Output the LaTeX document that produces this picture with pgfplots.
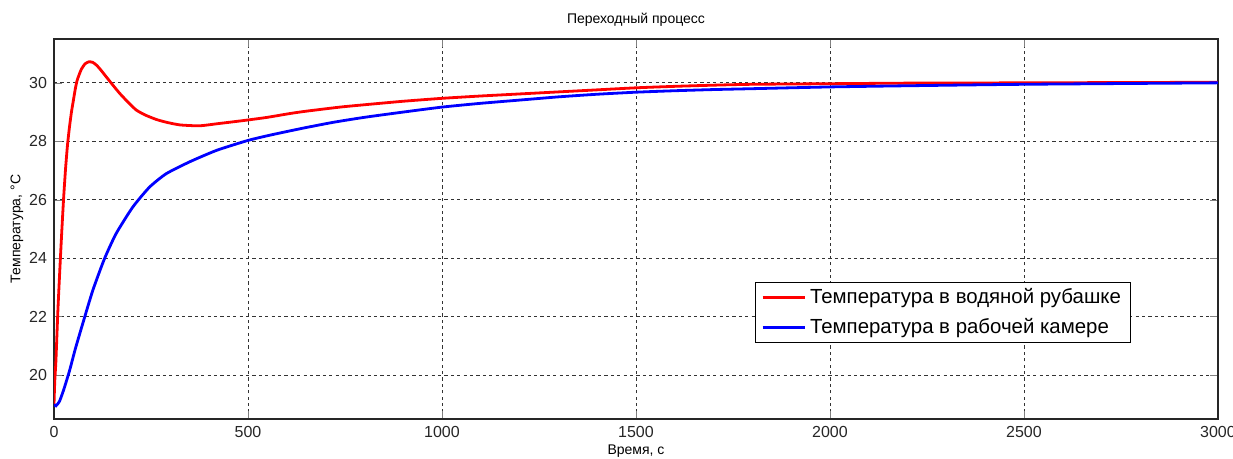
\documentclass[border=0pt]{standalone}
\usepackage{pgfplots}
\pgfplotsset{compat=1.18}
\usepackage{pgfplotstable}
\usepackage{fontspec}
\setmainfont{Liberation Sans}

\pgfplotstableread{
t v
0 19.0
2 19.8
5 20.5
10 22.2
15 23.6
20 24.9
25 26.1
30 27.1
35 27.9
40 28.5
45 29.0
50 29.4
55 29.8
60 30.1
70 30.45
80 30.65
90 30.72
100 30.7
110 30.6
120 30.45
135 30.2
150 29.95
170 29.63
190 29.35
212 29.07
235 28.9
263 28.75
290 28.65
325 28.56
375 28.53
420 28.6
470 28.68
500 28.73
550 28.82
608 28.95
650 29.03
737 29.17
800 29.25
900 29.37
1000 29.47
1100 29.55
1200 29.62
1300 29.69
1400 29.76
1500 29.83
1600 29.88
1700 29.92
1800 29.95
2000 29.97
2200 29.99
2500 30.0
3000 30.02
}\jacket

\pgfplotstableread{
t v
0 19.0
5 18.95
14 19.1
25 19.5
40 20.15
55 20.9
74 21.76
100 22.9
130 23.98
160 24.84
203 25.75
246 26.43
289 26.89
350 27.3
419 27.69
500 28.03
560 28.22
642 28.45
720 28.65
800 28.82
900 29.0
1000 29.17
1100 29.3
1200 29.41
1300 29.52
1400 29.61
1500 29.68
1600 29.73
1700 29.77
1800 29.8
2000 29.86
2200 29.9
2500 29.95
3000 30.0
}\chamber

\begin{document}
\begin{tikzpicture}
\path[use as bounding box] (-27pt,-20pt) rectangle (589.5pt,209.5pt);
\begin{axis}[
  at={(0,0)}, anchor=south west,
  scale only axis,
  width=582pt, height=190pt,
  xmin=0, xmax=3000, ymin=18.5, ymax=31.5,
  xtick={0,500,...,3000}, ytick={20,22,...,30},
  scaled x ticks=false,
  xticklabel style={/pgf/number format/1000 sep={}},
  /pgf/number format/assume math mode=true,
  tick label style={font=\fontsize{8}{9.6}\selectfont, text=black!85},
  tick align=inside, tick pos=both,
  major tick length=4pt,
  axis line style={line width=0.6pt, black!85},
  grid=major,
  major grid style={black!80, line width=0.45pt, dash pattern=on 1.6pt off 1.6pt},
  title={Переходный процесс},
  title style={font=\fontsize{7}{8}\selectfont, yshift=-3pt},
  xlabel={Время, с},
  ylabel={Температура, °C},
  label style={font=\fontsize{7}{8}\selectfont},
  xlabel style={yshift=3pt},
  ylabel style={yshift=-4pt},
  legend cell align=left,
  legend image code/.code={\draw[#1] (0pt,0pt) -- (21pt,0pt);},
  legend style={at={(0.602,0.3605)}, anchor=north west,
    font=\fontsize{10.2}{12}\selectfont, draw=black, line width=0.5pt,
    inner xsep=3pt, inner ysep=1pt, row sep=2pt},
]
\addplot[red, line width=1.4pt, smooth, tension=0.35] table[x=t, y=v] {\jacket};
\addlegendentry{Температура в водяной рубашке}
\addplot[blue, line width=1.4pt, smooth, tension=0.35] table[x=t, y=v] {\chamber};
\addlegendentry{Температура в рабочей камере}
\end{axis}
\end{tikzpicture}
\end{document}
